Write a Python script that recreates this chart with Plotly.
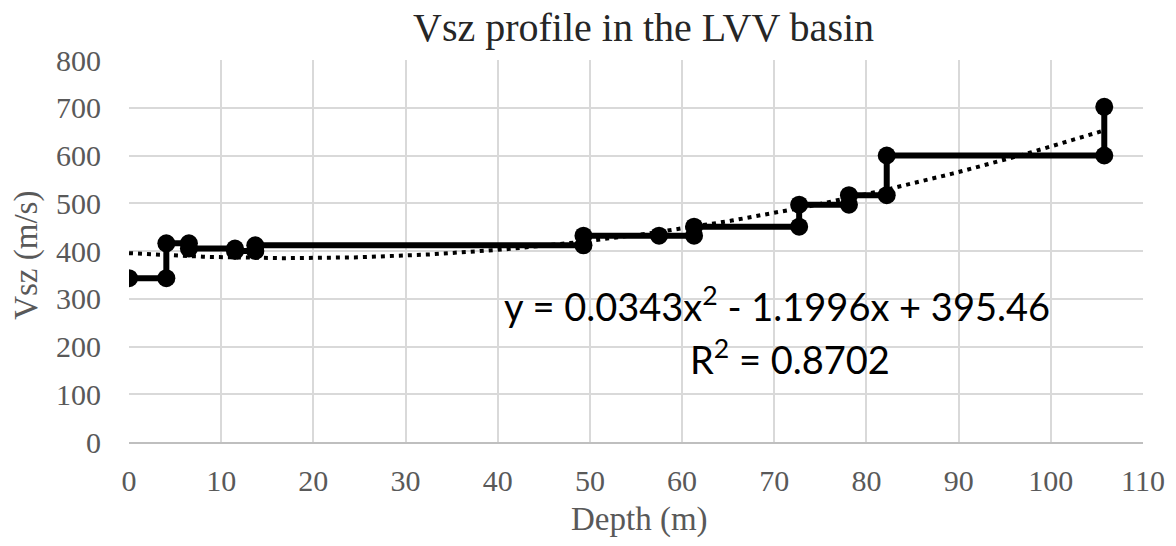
import numpy as np
import plotly.graph_objects as go

# Step profile of shear-wave velocity vs depth
depth = [0, 4.05, 4.05, 6.5, 6.5, 11.5, 11.5, 13.7, 13.7, 49.3, 49.3, 57.5,
         61.3, 61.3, 72.7, 72.7, 78.1, 78.1, 82.2, 82.2, 105.8, 105.8]
vsz = [343, 343, 416, 416, 405, 405, 400, 400, 412, 412, 432, 432,
       432, 451, 451, 497, 497, 517, 517, 600, 600, 702]

# Polynomial trendline coefficients (x^2, x, const) and fit quality
trend_coef = [0.0343, -1.1996, 395.46]
r_squared = 0.8702

x_ticks = list(range(0, 111, 10))
y_ticks = list(range(0, 801, 100))

xt = np.linspace(0, max(depth), 200)
yt = np.polyval(trend_coef, xt)

fig = go.Figure()
fig.add_trace(go.Scatter(
    x=xt, y=yt, mode="lines",
    line=dict(color="black", width=4, dash="4px,5px"),
    showlegend=False, hoverinfo="skip",
))
fig.add_trace(go.Scatter(
    x=depth, y=vsz, mode="lines+markers",
    line=dict(color="black", width=6),
    marker=dict(color="black", size=18),
    showlegend=False,
))

serif = "Liberation Serif"
grid = "#d9d9d9"
txt = "#595959"

fig.update_layout(
    width=1176, height=546,
    margin=dict(l=129, r=33, t=60, b=104),
    paper_bgcolor="white", plot_bgcolor="white",
    xaxis=dict(
        range=[0, 110], tickvals=x_ticks, showgrid=True, gridcolor=grid, gridwidth=2,
        zeroline=False, showline=True, linecolor="#bfbfbf", linewidth=2,
        tickfont=dict(family=serif, size=30, color=txt), ticks="",
        ticklabelstandoff=11, mirror=False,
    ),
    yaxis=dict(
        range=[0, 800], tickvals=y_ticks, showgrid=True, gridcolor=grid, gridwidth=2,
        zeroline=False, showline=False,
        tickfont=dict(family=serif, size=30, color=txt), ticks="",
        ticklabelstandoff=27,
    ),
    annotations=[
        dict(text="Vsz profile in the LVV basin", xref="paper", yref="paper",
             x=0.507, y=1.086, xanchor="center", yanchor="middle", showarrow=False,
             font=dict(family=serif, size=40, color="#262626")),
        dict(text="Depth (m)", xref="paper", yref="paper",
             x=0.503, y=-0.203, xanchor="center", yanchor="middle", showarrow=False,
             font=dict(family=serif, size=33, color=txt)),
        dict(text="Vsz (m/s)", xref="paper", yref="paper", textangle=-90,
             x=-0.1006, y=0.49, xanchor="center", yanchor="middle", showarrow=False,
             font=dict(family=serif, size=33, color=txt)),
        dict(text="y = %.4fx<sup>2</sup> - %.4fx + %.2f" % (trend_coef[0], -trend_coef[1], trend_coef[2]),
             xref="paper", yref="paper", x=0.639, y=0.36, xanchor="center", yanchor="middle",
             showarrow=False, font=dict(family="Lato", size=38, color="black")),
        dict(text="R<sup>2</sup> = %.4f" % r_squared,
             xref="paper", yref="paper", x=0.652, y=0.222, xanchor="center", yanchor="middle",
             showarrow=False, font=dict(family="Lato", size=38, color="black")),
    ],
)

fig.write_html("out.html")
